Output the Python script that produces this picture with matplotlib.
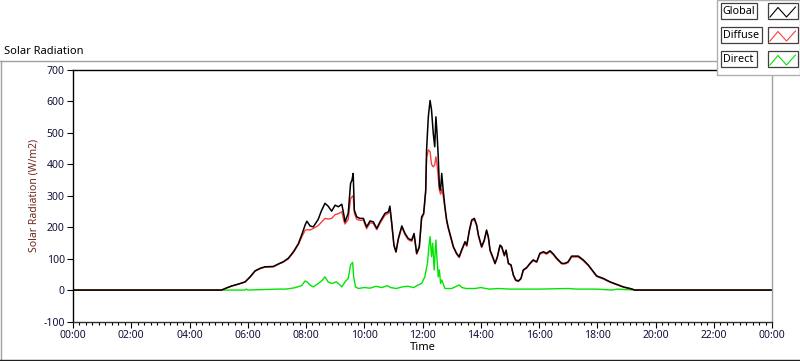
# Solar radiation chart (global / diffuse / direct) in LabVIEW style

import matplotlib
matplotlib.use('Agg')
import matplotlib.pyplot as plt
from matplotlib.ticker import MultipleLocator, FixedLocator
from matplotlib.lines import Line2D
from matplotlib.patches import Rectangle

plt.rcParams['font.family'] = ['Noto Sans', 'DejaVu Sans']
plt.rcParams['axes.unicode_minus'] = False

# time (hours) shared by Global and Diffuse
t_main = [0.0, 5.10, 5.28, 5.45, 5.68, 5.91, 6.08, 6.25, 6.42, 6.59, 6.88, 7.05, 7.22,
          7.39, 7.57, 7.74, 7.87, 7.97, 8.03, 8.14, 8.25, 8.42, 8.52, 8.65, 8.76, 8.88,
          9.00, 9.11, 9.23, 9.30, 9.34, 9.45, 9.53, 9.58, 9.62, 9.66, 9.74, 9.85, 9.97,
          10.08, 10.20, 10.31, 10.43, 10.54, 10.71, 10.83, 10.88, 10.94, 11.02, 11.09,
          11.17, 11.29, 11.40, 11.51, 11.63, 11.71, 11.80, 11.89, 11.97, 12.04, 12.11,
          12.14, 12.20, 12.26, 12.31, 12.37, 12.42, 12.46, 12.50, 12.54, 12.58, 12.62,
          12.66, 12.71, 12.77, 12.83, 12.88, 12.94, 13.06, 13.17, 13.26, 13.34, 13.46,
          13.52, 13.61, 13.69, 13.78, 13.86, 13.92, 14.03, 14.12, 14.20, 14.26, 14.32,
          14.43, 14.49, 14.57, 14.66, 14.72, 14.81, 14.87, 14.95, 15.04, 15.12, 15.20,
          15.29, 15.38, 15.46, 15.58, 15.69, 15.80, 15.92, 16.03, 16.15, 16.26, 16.38,
          16.49, 16.61, 16.78, 16.89, 17.00, 17.12, 17.23, 17.35, 17.52, 17.69, 17.87,
          17.98, 18.21, 18.44, 18.67, 18.90, 19.13, 19.30, 24.0]

global_rad = [0, 0, 7, 13, 19, 26, 42, 61, 69, 74, 75, 83, 90,
              101, 122, 148, 180, 207, 219, 204, 201, 225, 250, 276, 267, 251,
              270, 265, 273, 239, 217, 244, 339, 350, 371, 254, 233, 228, 228,
              201, 220, 217, 196, 217, 244, 249, 267, 217, 143, 122,
              164, 204, 180, 164, 159, 180, 117, 138, 233, 244, 318,
              446, 551, 603, 573, 498, 456, 551, 498, 424, 329, 318,
              371, 318, 265, 223, 201, 180, 138, 117, 106, 127, 154,
              143, 191, 223, 228, 207, 175, 138, 159, 191, 170, 127,
              101, 85, 106, 143, 138, 111, 127, 85, 80, 48, 32,
              29, 37, 64, 72, 85, 96, 90, 117, 122, 117, 125,
              115, 101, 85, 85, 90, 108, 108, 108, 96, 80, 58,
              45, 37, 26, 18, 10, 5, 0, 0]

diffuse_rad = [0, 0, 7, 13, 19, 26, 41, 60, 68, 73, 74, 82, 89,
               99, 120, 145, 172, 190, 192, 191, 196, 205, 215, 228, 226, 228,
               240, 243, 249, 220, 210, 225, 290, 297, 300, 245, 225, 222, 222,
               195, 214, 212, 192, 212, 238, 244, 260, 212, 140, 120,
               160, 200, 176, 160, 155, 176, 114, 134, 226, 240, 310,
               420, 446, 440, 400, 392, 398, 424, 400, 360, 318, 305,
               320, 300, 258, 218, 197, 176, 135, 114, 103, 123, 150,
               139, 187, 219, 224, 203, 171, 135, 155, 187, 166, 124,
               98, 83, 103, 140, 135, 108, 124, 83, 78, 46, 30,
               27, 35, 62, 70, 83, 93, 88, 114, 119, 114, 122,
               112, 98, 83, 83, 87, 105, 105, 105, 93, 78, 56,
               43, 35, 25, 17, 9, 4, 0, 0]

t_direct = [0.0, 5.10, 5.90, 5.95, 6.00, 7.00, 7.30, 7.60, 7.85, 7.97, 8.05, 8.14, 8.25,
            8.42, 8.55, 8.65, 8.76, 8.88, 9.04, 9.15, 9.23, 9.34, 9.45, 9.53, 9.60,
            9.64, 9.70, 9.80, 10.00, 10.20, 10.40, 10.60, 10.80, 10.90, 11.10, 11.30,
            11.50, 11.70, 11.85, 11.97, 12.08, 12.17, 12.22, 12.26, 12.31, 12.35, 12.40,
            12.46, 12.50, 12.54, 12.58, 12.62, 12.66, 12.77, 13.00, 13.26, 13.35, 13.50,
            13.80, 14.00, 14.30, 14.60, 15.00, 16.00, 17.00, 17.30, 18.00, 18.50, 18.70,
            19.30, 24.0]

direct_rad = [0, 0, 0, 3, 0, 3, 3, 7, 14, 29, 25, 16, 10,
              21, 30, 42, 26, 21, 26, 18, 10, 26, 37, 80, 88,
              40, 10, 5, 8, 6, 12, 8, 14, 8, 5, 10,
              12, 8, 16, 21, 42, 85, 138, 170, 106, 149, 64,
              159, 96, 42, 64, 21, 32, 5, 5, 16, 8, 5,
              5, 8, 3, 5, 3, 3, 5, 3, 3, 0, 3,
              0, 0]

x_labels = ['00:00', '02:00', '04:00', '06:00', '08:00', '10:00', '12:00',
            '14:00', '16:00', '18:00', '20:00', '22:00', '00:00']

W, H = 800, 361
fig = plt.figure(figsize=(8, 3.61), dpi=100)
ax = fig.add_axes([73 / W, 1 - 321.5 / H, (772 - 73) / W, (321.5 - 70) / H])

ax.plot(t_direct, direct_rad, color='#00e600', lw=1.0)
ax.plot(t_main, diffuse_rad, color='#ff3c3c', lw=1.0)
ax.plot(t_main, global_rad, color='black', lw=1.1)

ax.set_xlim(0, 24)
ax.set_ylim(-100, 700)
ax.xaxis.set_major_locator(FixedLocator(range(0, 25, 2)))
ax.set_xticklabels(x_labels)
ax.xaxis.set_minor_locator(MultipleLocator(2 / 9))
ax.yaxis.set_major_locator(MultipleLocator(100))

ax.tick_params(axis='both', which='major', labelsize=7.5, labelcolor='#10103a',
               length=4, width=0.8, direction='out', pad=2)
ax.tick_params(axis='x', which='minor', length=2.5, width=0.8, direction='out')

ax.spines['left'].set_color('black')
ax.spines['top'].set_color('black')
ax.spines['bottom'].set_color('#303030')
ax.spines['right'].set_color('#a0a0a0')
for s in ax.spines.values():
    s.set_linewidth(1.0)

ax.set_ylabel('Solar Radiation (W/m2)', fontsize=7.5, color='#6e2a1a', labelpad=3)
ax.set_xlabel('Time', fontsize=8, color='black', labelpad=1)


def fx(x):
    return x / W


def fy(y):
    return 1 - y / H


# panel frame
fig.add_artist(Line2D([fx(0), fx(717)], [fy(61), fy(61)], color='#a0a0a0', lw=1))
fig.add_artist(Line2D([fx(1), fx(1)], [fy(61), fy(359)], color='#a0a0a0', lw=1))
fig.add_artist(Line2D([fx(0), fx(800)], [fy(359.5), fy(359.5)], color='#202020', lw=1))

fig.text(fx(4), fy(51), 'Solar Radiation', fontsize=8, color='black', va='center', ha='left')

# legend (label box + swatch box per row)
fig.add_artist(Rectangle((fx(717), fy(75)), fx(83), 75 / H, facecolor='white',
                         edgecolor='#b0b0b0', lw=1, zorder=5))
legend_names = ['Global', 'Diffuse', 'Direct']
legend_colors = ['black', '#ff3c3c', '#00e600']
legend_widths = [36, 41, 36]
for i, (name, col, wd) in enumerate(zip(legend_names, legend_colors, legend_widths)):
    top = 3 + i * 24
    fig.add_artist(Rectangle((fx(721), fy(top + 16)), fx(wd), 16 / H, facecolor='white',
                             edgecolor='#404040', lw=0.9, zorder=6))
    fig.text(fx(722.5), fy(top + 8.5), name, fontsize=7.8, color='black', va='center',
             ha='left', zorder=7)
    fig.add_artist(Rectangle((fx(768), fy(top + 16)), fx(30), 16 / H, facecolor='white',
                             edgecolor='#404040', lw=0.9, zorder=6))
    zx = [770, 778, 786.5, 795.5]
    zy = [top + 14, top + 4.5, top + 14, top + 4]
    fig.add_artist(Line2D([fx(v) for v in zx], [fy(v) for v in zy], color=col,
                          lw=0.8, zorder=7))

fig.savefig('out.png', dpi=100)
